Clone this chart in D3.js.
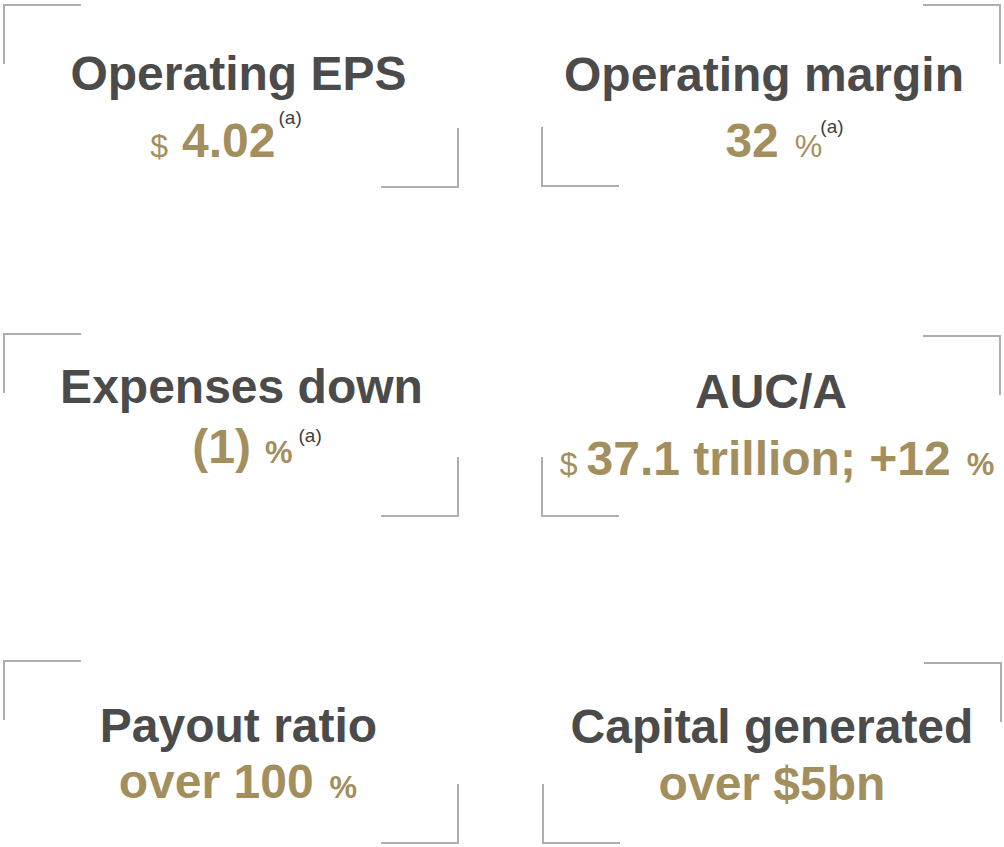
<!DOCTYPE html>
<html><head><meta charset="utf-8">
<script src="https://cdn.jsdelivr.net/npm/d3@7"></script>
<style>html,body{margin:0;padding:0;background:#fff;}svg{display:block;}</style>
</head><body>
<script>
// ---- data ----
const titles   = ["Operating EPS", "Operating margin", "Expenses down", "AUC/A", "Payout ratio", "Capital generated"];
const prefixes = ["$", "", "", "$", "", ""];
const values   = ["4.02", "32", "(1)", "37.1 trillion; +12", "over 100", "over $5bn"];
const suffixes = ["", "%", "%", "%", "%", ""];
const notes    = ["(a)", "(a)", "(a)", "", "", ""];

// ---- layout ----
const W = 1004, H = 847;
const col = [0, 1, 0, 1, 0, 1];
const titleX = [238.5, 764, 241.5, 771, 238.5, 772];
const titleY = [90, 91, 403, 408, 742, 743];
const valueX = [226, 784.5, 257, 777, 238, 772];
const valueY = [157, 157, 463, 475, 798, 800];
const noteDy = [-33, -24, -21, 0, 0, 0];
const suffixBold = [false, false, true, true, true, false];
const bracketTop = [5, 5, 334, 336, 661, 663];
const bracketBot = [187, 186, 516, 516, 843, 843];
const bracketInner = [458, 542, 458, 542, 458, 543];
const bracketOuter = [4, 1000, 4, 1000, 4, 1001];
const armH = 77, armV = 59;

const gold = "#a38f5e", dark = "#4b4b4b", lineC = "#aeaeb2";
const font = "'Liberation Sans', Arial, sans-serif";

const svg = d3.select("body").append("svg").attr("width", W).attr("height", H);

const tiles = titles.map((t, i) => ({i, title: t, prefix: prefixes[i], value: values[i], suffix: suffixes[i], note: notes[i]}));

const g = svg.selectAll("g.tile").data(tiles).join("g").attr("class", "tile");

// brackets
g.append("path")
  .attr("fill", "none").attr("stroke", lineC).attr("stroke-width", 2)
  .attr("d", d => {
    const i = d.i, o = bracketOuter[i], n = bracketInner[i], t = bracketTop[i], b = bracketBot[i];
    const sOut = col[i] === 0 ? 1 : -1;
    const top = `M${o + sOut * armH},${t}H${o}V${t + armV}`;
    const bot = `M${n},${b - armV}V${b}H${n - sOut * armH}`;
    return top + bot;
  });

// titles
g.append("text")
  .attr("x", d => titleX[d.i]).attr("y", d => titleY[d.i])
  .attr("text-anchor", "middle")
  .attr("font-family", font).attr("font-weight", "bold").attr("font-size", 48)
  .attr("fill", dark)
  .text(d => d.title);

// values
const vt = g.append("text")
  .attr("x", d => valueX[d.i]).attr("y", d => valueY[d.i])
  .attr("text-anchor", "middle")
  .attr("font-family", font).attr("fill", gold);

vt.each(function(d) {
  const t = d3.select(this);
  if (d.prefix) {
    t.append("tspan").attr("font-size", 32).attr("font-weight", "normal").text(d.prefix);
  }
  t.append("tspan").attr("font-size", 48).attr("font-weight", "bold")
    .attr("dx", d.prefix ? (d.i === 0 ? 14 : 9) : 0).text(d.value);
  if (d.suffix) {
    t.append("tspan").attr("font-size", 31).attr("font-weight", suffixBold[d.i] ? "bold" : "normal")
      .attr("dx", d.i === 2 ? 14 : 16).text(d.suffix);
  }
  if (d.note) {
    t.append("tspan").attr("font-size", 19).attr("font-weight", "normal").attr("fill", "#404040")
      .attr("dy", noteDy[d.i]).attr("dx", d.suffix === "" ? 3 : (d.i === 2 ? 6 : -2)).text(d.note);
  }
});
</script>
</body></html>
